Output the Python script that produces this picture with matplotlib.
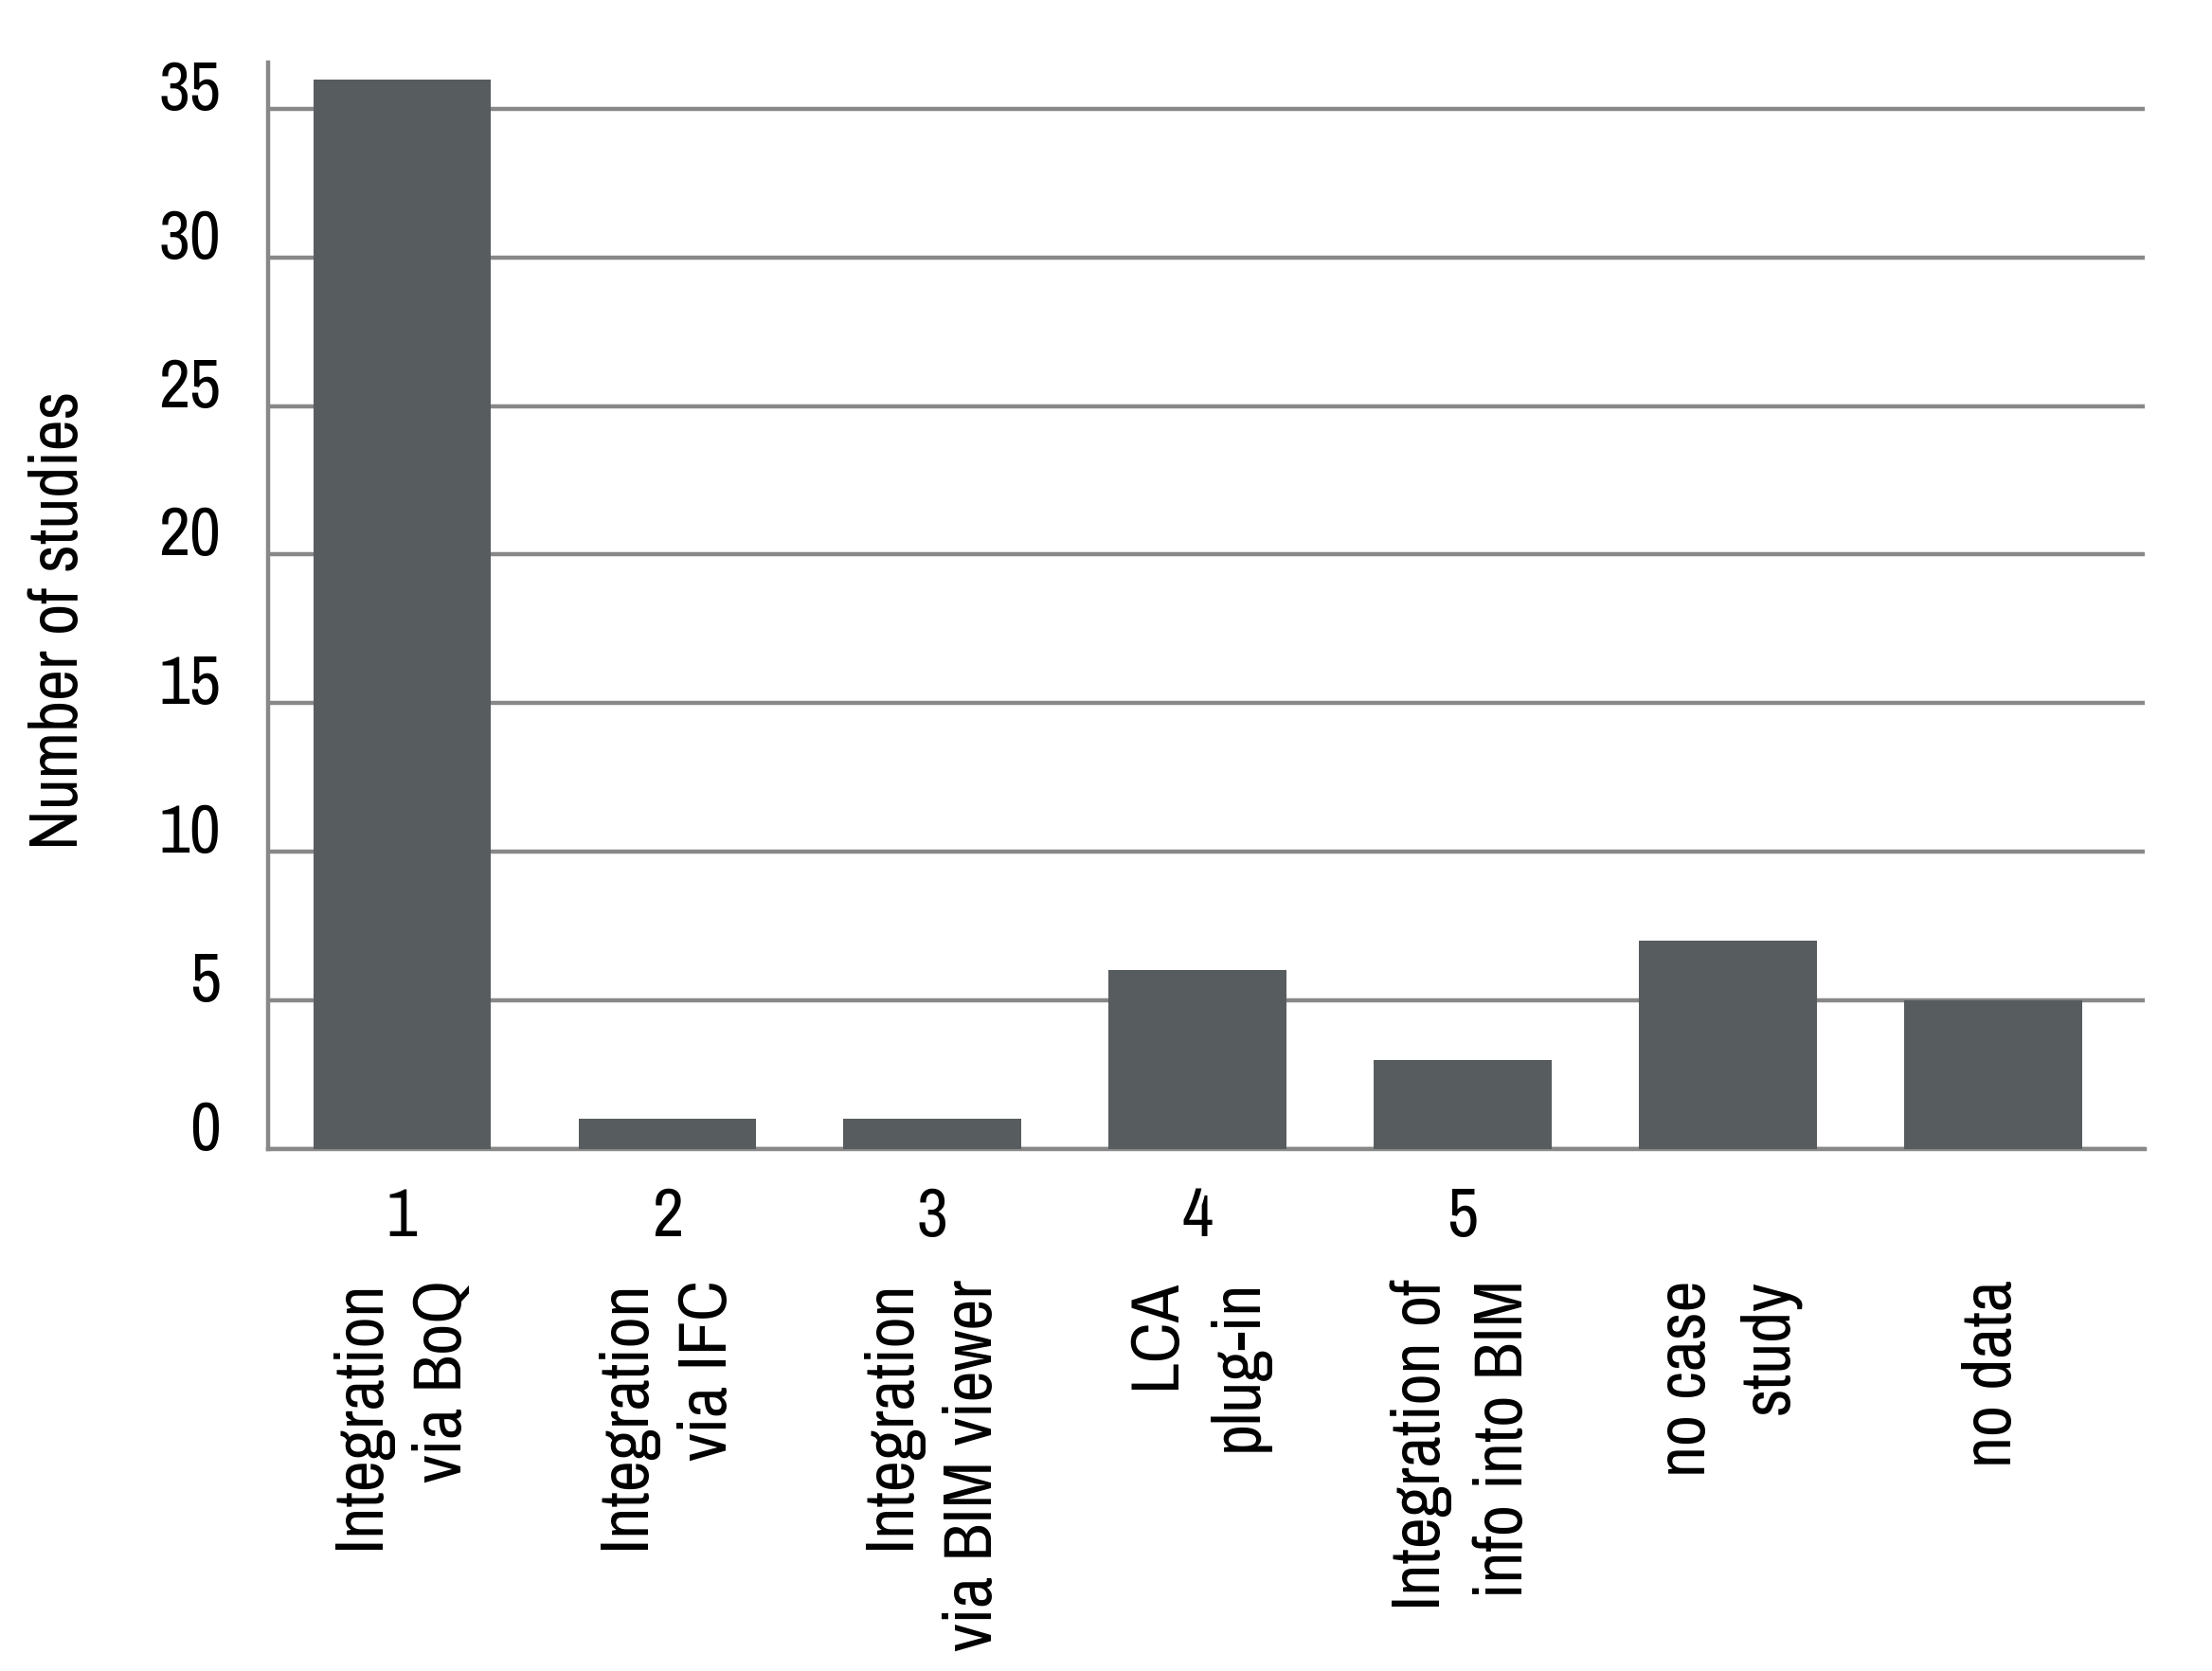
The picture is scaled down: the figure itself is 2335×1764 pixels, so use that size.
import matplotlib.pyplot as plt

# Data
numbers = ['1', '2', '3', '4', '5', '', '']
categories = ['Integration\nvia BoQ', 'Integration\nvia IFC',
              'Integration\nvia BIM viewer', 'LCA\nplug-in',
              'Integration of\ninfo into BIM', 'no case\nstudy', 'no data']
studies = [36, 1, 1, 6, 3, 7, 5]

narrow = ['Archivo Narrow', 'Roboto Condensed', 'DejaVu Sans']

bar_color = '#575c5f'
grid_color = '#888888'

fig = plt.figure(figsize=(23.35, 17.65), dpi=100)
ax = fig.add_axes([0.1212, 0.3124, 0.8482, 0.6496])

x = range(len(studies))
ax.bar(x, studies, width=0.67, color=bar_color, zorder=3)

ax.set_xlim(-0.505, 6.57)
ax.set_ylim(0, 36.56)

# Horizontal gridlines
ax.set_yticks(range(0, 36, 5))
ax.yaxis.grid(True, color=grid_color, linewidth=3.2, zorder=0)
ax.set_axisbelow(True)

# Spines
for side in ['top', 'right']:
    ax.spines[side].set_visible(False)
for side in ['left', 'bottom']:
    ax.spines[side].set_color(grid_color)
    ax.spines[side].set_linewidth(3.2)

# Tick labels
ax.tick_params(axis='both', length=0)
ax.tick_params(axis='y', pad=36)
ax.tick_params(axis='x', pad=28)
ax.set_yticklabels([str(v) for v in range(0, 36, 5)], family=narrow, fontsize=52)
for lab in ax.get_yticklabels():
    lab.set_verticalalignment('baseline')
ax.set_xticks(list(x))
ax.set_xticklabels(numbers, family=narrow, fontsize=52)

# Category names below the numbers
for i, name in enumerate(categories):
    ax.annotate(name, xy=(i, 0), xycoords=('data', 'axes fraction'),
                xytext=(0, -99), textcoords='offset points',
                rotation=90, ha='center', va='top', multialignment='right',
                family=narrow, fontsize=52, linespacing=1.42)

ax.set_ylabel('Number of studies', family=narrow, fontsize=52, labelpad=40)
ax.yaxis.set_label_coords(-0.095, 0.487)

plt.savefig('out.png', dpi=100)
